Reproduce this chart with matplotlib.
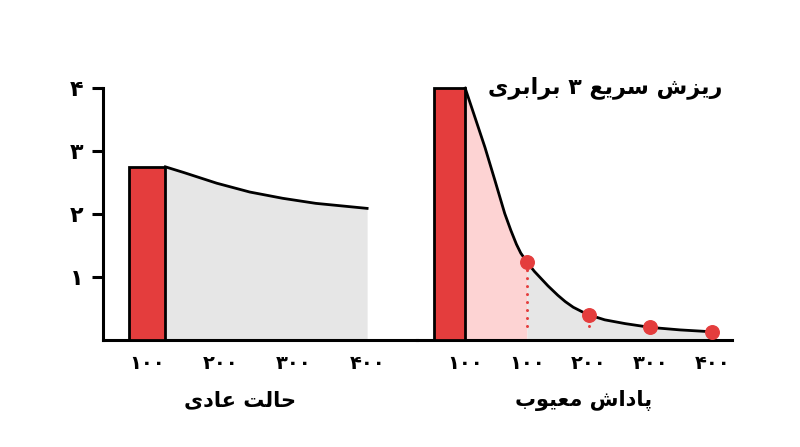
import matplotlib
matplotlib.use("Agg")
import matplotlib.pyplot as plt

# normal reward (left panel)
normal_bar_x = 100
normal_bar_height = 2.75
normal_curve_x = [125, 150, 195, 240, 285, 330, 400]
normal_curve_y = [2.75, 2.66, 2.49, 2.35, 2.25, 2.17, 2.09]
normal_ticks = [100, 200, 300, 400]
normal_tick_labels = ["۱۰۰", "۲۰۰", "۳۰۰", "۴۰۰"]

# faulty reward (right panel)
faulty_bar_x = -25
faulty_bar_height = 4.0
faulty_curve_x = [0, 14, 32, 48, 64, 74, 83, 90, 100, 112, 134, 150, 162, 175,
                  189, 200, 226, 259, 300, 348, 400]
faulty_curve_y = [4.0, 3.59, 3.06, 2.54, 2.01, 1.74, 1.52, 1.38, 1.24, 1.09,
                  0.86, 0.71, 0.61, 0.52, 0.45, 0.40, 0.32, 0.26, 0.20, 0.16, 0.13]
faulty_dots_x = [100, 200, 300, 400]
faulty_dots_y = [1.24, 0.40, 0.20, 0.13]
faulty_ticks = [0, 100, 200, 300, 400]
faulty_tick_labels = ["۱۰۰", "۱۰۰", "۲۰۰", "۳۰۰", "۴۰۰"]

y_ticks = [1, 2, 3, 4]
y_tick_labels = ["۱", "۲", "۳", "۴"]

title = "ریزش سریع ۳ برابری"
normal_label = "حالت عادی"
faulty_label = "پاداش معیوب"

RED = "#e43d3d"
PINK = "#fdd3d3"
GRAY = "#e6e6e6"

# matplotlib has no arabic shaping, so pick the joined glyph forms by hand
# (isolated, final, initial, medial)
FORMS = {
    "ا": ("\ufe8d", "\ufe8e", None, None),
    "ب": ("\ufe8f", "\ufe90", "\ufe91", "\ufe92"),
    "پ": ("\ufb56", "\ufb57", "\ufb58", "\ufb59"),
    "ت": ("\ufe95", "\ufe96", "\ufe97", "\ufe98"),
    "ح": ("\ufea1", "\ufea2", "\ufea3", "\ufea4"),
    "د": ("\ufea9", "\ufeaa", None, None),
    "ر": ("\ufead", "\ufeae", None, None),
    "ز": ("\ufeaf", "\ufeb0", None, None),
    "س": ("\ufeb1", "\ufeb2", "\ufeb3", "\ufeb4"),
    "ش": ("\ufeb5", "\ufeb6", "\ufeb7", "\ufeb8"),
    "ع": ("\ufec9", "\ufeca", "\ufecb", "\ufecc"),
    "ل": ("\ufedd", "\ufede", "\ufedf", "\ufee0"),
    "م": ("\ufee1", "\ufee2", "\ufee3", "\ufee4"),
    "و": ("\ufeed", "\ufeee", None, None),
    "ی": ("\ufbfc", "\ufbfd", "\ufbfe", "\ufbff"),
}


def shape(text):
    words = []
    for word in text.split(" "):
        if word.isdigit():
            words.append(word)
            continue
        out = []
        for i, ch in enumerate(word):
            if ch not in FORMS:
                out.append(ch)
                continue
            prev = word[i - 1] if i > 0 else None
            nxt = word[i + 1] if i < len(word) - 1 else None
            join_prev = prev in FORMS and FORMS[prev][2] is not None
            join_next = nxt in FORMS and FORMS[ch][2] is not None
            iso, fin, ini, med = FORMS[ch]
            if join_prev and join_next:
                out.append(med)
            elif join_prev:
                out.append(fin)
            elif join_next:
                out.append(ini)
            else:
                out.append(iso)
        words.append("".join(reversed(out)))
    return " ".join(reversed(words))


plt.rcParams["font.family"] = ["DejaVu Sans"]
plt.rcParams["font.weight"] = "bold"

fig = plt.figure(figsize=(8, 4.47), dpi=100)
ax1 = fig.add_axes([0.12875, 0.2394, 0.3925, 0.5705])
ax2 = fig.add_axes([0.52125, 0.2394, 0.39375, 0.5705])

for ax in (ax1, ax2):
    ax.set_ylim(0, 4.05)
    ax.spines["top"].set_visible(False)
    ax.spines["right"].set_visible(False)
    ax.spines["bottom"].set_linewidth(2.2)
    ax.tick_params(axis="x", length=0, pad=10, labelsize=14)
    ax.patch.set_alpha(0)

ax1.set_xlim(40, 468)
ax2.set_xlim(-78, 432)

ax1.spines["left"].set_linewidth(2.2)
ax1.spines["left"].set_bounds(0, 4)
ax2.spines["left"].set_visible(False)
ax1.set_yticks(y_ticks)
ax1.set_yticklabels(y_tick_labels)
ax1.tick_params(axis="y", length=8, width=2.2, pad=6, labelsize=16)
ax2.set_yticks([])

# left panel
ax1.fill_between(normal_curve_x, 0, normal_curve_y, color=GRAY, lw=0)
ax1.plot(normal_curve_x, normal_curve_y, color="black", lw=2)
ax1.bar(normal_bar_x, normal_bar_height, width=50, color=RED,
        edgecolor="black", lw=2, zorder=3)
ax1.set_xticks(normal_ticks)
ax1.set_xticklabels(normal_tick_labels)

# right panel
ax2.fill_between(faulty_curve_x, 0, faulty_curve_y,
                 where=[x <= 100 for x in faulty_curve_x], color=PINK, lw=0)
ax2.fill_between(faulty_curve_x, 0, faulty_curve_y,
                 where=[x >= 100 for x in faulty_curve_x], color=GRAY, lw=0)
ax2.plot(faulty_curve_x, faulty_curve_y, color="black", lw=2)
ax2.bar(faulty_bar_x, faulty_bar_height, width=50, color=RED,
        edgecolor="black", lw=2, zorder=3, clip_on=False)
for x, y in zip(faulty_dots_x[:2], faulty_dots_y[:2]):
    ax2.plot([x, x], [0.22, y], color=RED, lw=2.2,
             linestyle=(0, (0.01, 2.6)), dash_capstyle="round")
ax2.scatter(faulty_dots_x, faulty_dots_y, s=95, color=RED, zorder=4, clip_on=False)
ax2.set_xticks(faulty_ticks)
ax2.set_xticklabels(faulty_tick_labels)

ax2.text(226, 4.0, shape(title), ha="center", va="center", fontsize=16)

fig.text(0.3, 0.105, shape(normal_label), ha="center", va="center", fontsize=15)
fig.text(0.729, 0.105, shape(faulty_label), ha="center", va="center", fontsize=15)

fig.savefig("out.png", dpi=100)
